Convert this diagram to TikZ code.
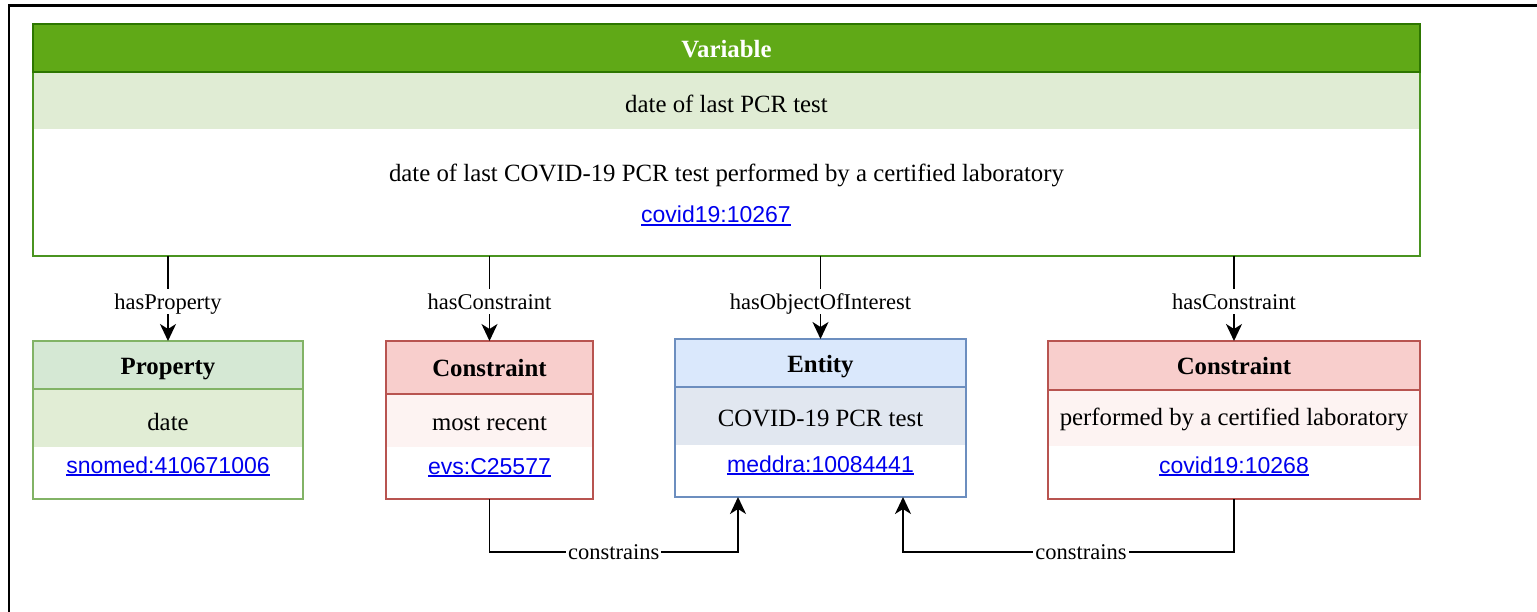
\documentclass[tikz,border=0pt]{standalone}
\usepackage{fontspec}
\setmainfont{Liberation Serif}
\newfontfamily\linkfont{Liberation Sans}
\usetikzlibrary{arrows.meta,calc}

\definecolor{varhead}{HTML}{60A917}
\definecolor{varstroke}{HTML}{2D7600}
\definecolor{varline}{HTML}{4A9420}
\definecolor{varband}{HTML}{E0ECD4}
\definecolor{prophead}{HTML}{D5E8D4}
\definecolor{propband}{HTML}{E1EDD5}
\definecolor{propstroke}{HTML}{82B366}
\definecolor{conhead}{HTML}{F8CECC}
\definecolor{conband}{HTML}{FDF3F2}
\definecolor{constroke}{HTML}{B85450}
\definecolor{enthead}{HTML}{DAE8FC}
\definecolor{entband}{HTML}{E1E7F0}
\definecolor{entstroke}{HTML}{6C8EBF}
\definecolor{linkblue}{HTML}{0000EE}

% underlined identifier link
\newcommand{\idlink}[1]{{\linkfont\fontsize{23}{27}\selectfont\color{linkblue}%
  \setbox0\hbox{#1}\rlap{\rule[-3pt]{\wd0}{1.8pt}}\box0}}

\begin{document}
\begin{tikzpicture}[x=1pt,y=-1pt,
  txt/.style={font=\fontsize{24.8}{30}\selectfont, inner sep=0pt, anchor=base},
  ttl/.style={font=\fontsize{24.8}{30}\selectfont\bfseries, inner sep=0pt, anchor=base},
  lnk/.style={inner sep=0pt, anchor=base},
  lbl/.style={font=\fontsize{22.5}{27}\selectfont, fill=white, inner sep=2pt,
    text height=18pt, text depth=3pt},
  outline/.style={line width=1.6pt, inner sep=0pt, outer sep=0pt, anchor=north west},
  conn/.style={draw=black, line width=1.8pt, -{Stealth[length=17pt,width=16pt,inset=5pt]}}]

\useasboundingbox (0,0) rectangle (1537,612);

% page frame
\draw[line width=2.4pt] (9,612) -- (9,5.5) -- (1537,5.5);

% ---------------- Variable ----------------
\fill[varband] (33,72) rectangle (1420,129);
\fill[varhead] (33,24) rectangle (1420,72);
\node[outline, draw=varline, minimum width=1387pt, minimum height=232pt] (var) at (33,24) {};
\draw[varstroke, line width=1.6pt] (33,24) rectangle (1420,72);
\node[ttl, text=white] (vart) at (726.5,57.5) {Variable};
\node[txt] (varn) at (726.5,112.5) {date of last PCR test};
\node[txt] (vard) at (726.5,182) {date of last COVID-19 PCR test performed by a certified laboratory};
\node[lnk] (varl) at (716,223) {\idlink{covid19:10267}};

% ---------------- Property ----------------
\fill[propband] (33,389) rectangle (303,447);
\fill[prophead] (33,341) rectangle (303,389);
\node[outline, draw=propstroke, minimum width=270pt, minimum height=158pt] (prop) at (33,341) {};
\draw[propstroke, line width=1.6pt] (33,389) -- (303,389);
\node[ttl] (propt) at (168,374) {Property};
\node[txt] (propn) at (168,430) {date};
\node[lnk] (propl) at (168,473) {\idlink{snomed:410671006}};

% ---------------- Constraint (most recent) ----------------
\fill[conband] (386,394) rectangle (593,447);
\fill[conhead] (386,341) rectangle (593,394);
\node[outline, draw=constroke, minimum width=207pt, minimum height=158pt] (cona) at (386,341) {};
\draw[constroke, line width=1.6pt] (386,394) -- (593,394);
\node[ttl] (conat) at (489.5,376) {Constraint};
\node[txt] (conan) at (489.5,430) {most recent};
\node[lnk] (conal) at (489.5,474) {\idlink{evs:C25577}};

% ---------------- Entity ----------------
\fill[entband] (675,387) rectangle (966,445);
\fill[enthead] (675,339) rectangle (966,387);
\node[outline, draw=entstroke, minimum width=291pt, minimum height=158pt] (ent) at (675,339) {};
\draw[entstroke, line width=1.6pt] (675,387) -- (966,387);
\node[ttl] (entt) at (820.5,372) {Entity};
\node[txt] (entn) at (820.5,426) {COVID-19 PCR test};
\node[lnk] (entl) at (820.5,472) {\idlink{meddra:10084441}};

% ---------------- Constraint (laboratory) ----------------
\fill[conband] (1048,390) rectangle (1420,446);
\fill[conhead] (1048,341) rectangle (1420,390);
\node[outline, draw=constroke, minimum width=372pt, minimum height=158pt] (conb) at (1048,341) {};
\draw[constroke, line width=1.6pt] (1048,390) -- (1420,390);
\node[ttl] (conbt) at (1234,374) {Constraint};
\node[txt] (conbn) at (1234,425) {performed by a certified laboratory};
\node[lnk] (conbl) at (1234,473) {\idlink{covid19:10268}};

% ---------------- relations from the variable ----------------
\draw[conn] (var.south -| prop.north) -- node[lbl, pos=0.54] {hasProperty} (prop.north);
\draw[conn] (var.south -| cona.north) -- node[lbl, pos=0.54] {hasConstraint} (cona.north);
\draw[conn] (var.south -| ent.north) -- node[lbl, pos=0.55] {hasObjectOfInterest} (ent.north);
\draw[conn] (var.south -| conb.north) -- node[lbl, pos=0.54] {hasConstraint} (conb.north);

% ---------------- constraints on the entity ----------------
\draw[conn] (cona.south) -- ++(0,53) -| node[lbl, pos=0.25] {constrains} ([xshift=-82.5pt]ent.south);
\draw[conn] (conb.south) -- ++(0,53) -| node[lbl, pos=0.231] {constrains} ([xshift=82.5pt]ent.south);

\end{tikzpicture}
\end{document}
